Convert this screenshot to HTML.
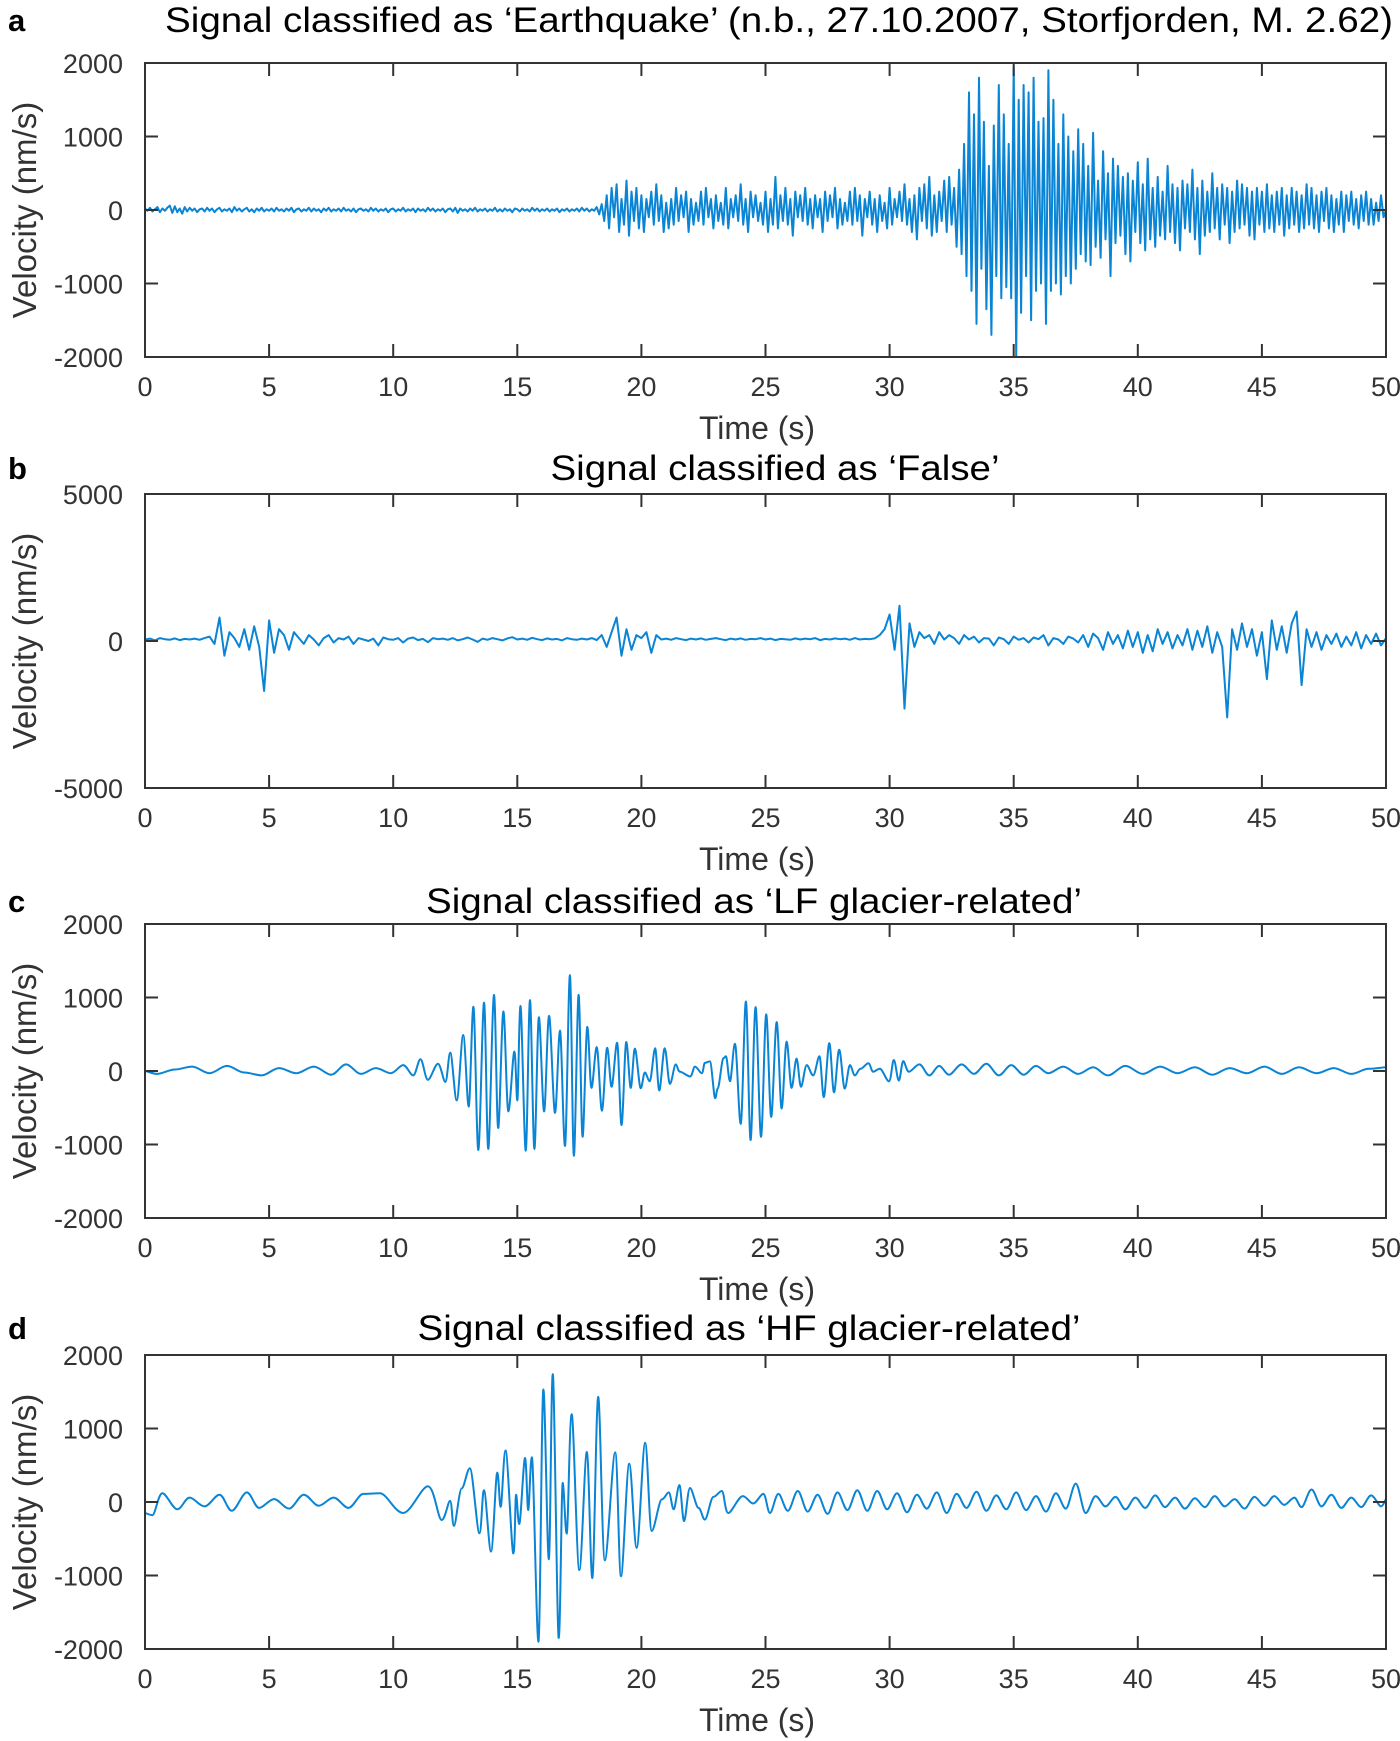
<!DOCTYPE html>
<html><head><meta charset="utf-8">
<style>
html,body{margin:0;padding:0;background:#fff;}
svg{display:block;font-family:"Liberation Sans",Arial,sans-serif;}
</style></head>
<body>
<svg id="fig" width="1400" height="1741" viewBox="0 0 1400 1741" xmlns="http://www.w3.org/2000/svg"></svg>
<script>
// ---------- data ----------
const xTicks = [0,5,10,15,20,25,30,35,40,45,50];
const yTicksA = [-2000,-1000,0,1000,2000];
const yTicksB = [-5000,0,5000];
const yTicksC = [-2000,-1000,0,1000,2000];
const yTicksD = [-2000,-1000,0,1000,2000];
const titles = ["Signal classified as \u2018Earthquake\u2019 (n.b., 27.10.2007, Storfjorden, M. 2.62)","Signal classified as \u2018False\u2019","Signal classified as \u2018LF glacier-related\u2019","Signal classified as \u2018HF glacier-related\u2019"];
const letters = ["a","b","c","d"];

// panel a: uniformly sampled samples over 0..50 s
const aValues = [20,-10,30,-20,10,40,-30,20,-10,30,60,-40,50,-30,20,-50,40,-20,30,-10,20,-30,10,20,-20,30,-10,20,-30,10,30,-20,10,-10,20,-30,40,-10,20,-20,10,30,-20,10,-30,20,-10,30,-20,10,
-10,20,-20,30,-10,10,-20,20,-10,30,-30,10,20,-20,10,-10,30,-20,20,-10,10,-30,20,-10,30,-20,10,-10,20,-20,30,-10,10,-20,20,-30,10,20,-10,10,-20,30,-10,20,-20,10,-10,20,-30,10,
20,-20,10,-10,30,-20,10,-10,20,-30,20,-10,10,-20,30,-10,20,-20,10,-10,20,-30,10,20,-20,30,-40,20,-10,10,-20,20,-10,30,-20,10,-10,20,-20,10,-10,30,-20,10,-20,20,-10,10,-30,20,
10,-20,20,-10,10,-20,30,-10,20,-20,10,-10,20,-20,10,-10,20,-30,10,-10,20,-20,10,-10,20,-20,30,-10,20,-20,10,-10,40,-60,80,
-150,200,-250,300,-100,350,-300,150,-200,400,-350,250,-150,300,-250,200,-300,150,-100,250,-200,350,-150,200,-300,100,-250,150,-200,300,-150,200,-100,250,-300,150,-200,100,-150,250,-200,300,-100,150,-250,200,-150,100,-200,300,-250,150,-100,200,-150,350,-200,150,-300,250,-100,200,-150,100,-200,
250,-300,150,-200,450,-250,200,-150,300,-200,150,-350,250,-100,200,-150,300,-200,150,-250,200,-100,150,-300,250,-150,200,-100,300,-250,150,-200,100,-150,250,-200,300,-150,200,-350,150,-100,250,-200,150,-300,200,-150,100,-250,300,-200,150,-100,250,-150,350,-200,150,-300,200,-400,300,-150,350,-250,450,-350,200,-300,250,-150,400,-300,450,-200,300,-500,550,-600,
900,-900,1600,-1100,1300,-1550,1800,-800,1200,-1350,600,-1700,1150,-900,1700,-1200,1300,-1050,900,-1200,1950,-2000,1500,-1400,1700,-900,1600,-1500,1800,-1100,1200,-1000,1250,-1550,1900,-1100,1500,-1000,900,-1150,1300,-900,1000,-1000,800,
-800,1100,-600,900,-700,600,-750,1050,-500,400,-650,800,-400,500,-900,700,-450,600,-350,450,-600,500,-700,400,-300,650,-450,350,-550,700,-400,300,-500,450,-350,250,-400,600,-300,350,-450,300,-550,400,-250,350,-300,550,-400,300,-600,400,-350,250,-300,500,-250,300,-400,350,-200,300,-450,250,-300,400,-250,350,-200,300,-350,250,-400,300,-200,250,-300,350,-250,200,-300,250,-200,300,-350,200,-250,300,-200,250,-300,200,-250,350,-200,300,-250,200,-300,250,-150,300,-250,200,-300,150,-200,250,-300,200,-150,250,-200,150,-250,200,-150,250,-200,150,-200,100,-150,200,-100,0];

// panel b: uniformly sampled over 0..50 s
const bValues = [50,80,20,100,60,40,90,30,70,50,
80,40,100,150,-100,800,-500,300,100,-200,
400,-300,500,-200,-1700,700,-400,400,200,-300,
300,100,-100,200,50,-150,100,200,-50,100,
50,150,-100,100,50,0,80,-150,120,60,
40,100,-50,80,120,30,70,-40,100,60,
80,40,100,20,60,120,50,-30,80,40,
100,60,20,90,130,50,80,40,110,60,
30,90,50,70,20,100,60,40,80,50,
100,30,200,-200,300,800,-500,400,-300,200,
100,300,-400,200,50,80,40,100,60,30,
80,50,90,40,70,100,60,30,80,50,
90,40,70,60,100,50,80,30,70,60,
40,90,50,80,60,100,30,70,50,90,
60,80,40,100,50,70,60,90,200,400,
900,-300,1200,-2300,600,-200,300,100,200,-100,
300,50,200,100,-100,200,50,150,-50,100,
80,-150,120,60,-100,150,40,100,-50,120,
60,200,-150,100,50,-100,150,80,-50,200,
-200,250,100,-300,300,-100,200,-250,350,-200,
300,-400,200,-350,400,-100,300,-250,200,-150,
400,-300,350,-200,500,-400,300,-200,-2600,400,
-300,600,-200,400,-500,300,-1300,700,-300,500,
-400,600,1000,-1500,400,-200,300,-300,200,-100,
250,-200,150,-150,300,-250,200,-100,250,-150,100];

// panel c: extremes (time s, value nm/s)
const cTimes = [0,0.5,1.2,1.9,2.6,3.3,4.0,4.7,5.4,6.1,6.8,7.5,8.1,8.7,9.3,9.9,10.4,10.8,11.1,11.4,11.8,12.1,12.3,12.56,12.82,13.04,13.23,13.43,13.66,13.83,14.06,14.23,14.44,14.64,14.88,15.0,15.13,15.34,15.51,15.69,15.87,16.08,16.28,16.52,16.72,16.92,17.12,17.28,17.47,17.63,17.82,17.99,18.2,18.41,18.62,18.8,19.02,19.2,19.39,19.57,19.74,19.97,20.14,20.34,20.55,20.72,20.94,21.15,21.38,21.56,21.96,22.16,22.43,22.56,22.76,22.97,23.08,23.3,23.41,23.57,23.77,24.0,24.21,24.4,24.6,24.82,25.03,25.23,25.45,25.65,25.85,26.05,26.25,26.43,26.66,26.92,27.17,27.35,27.57,27.76,27.97,28.19,28.4,28.6,28.83,29.14,29.34,29.61,29.97,30.17,30.37,30.55,30.78,31.2,31.6,32.0,32.4,32.9,33.4,33.9,34.4,34.9,35.4,35.9,36.4,37.0,37.6,38.2,38.8,39.5,40.2,40.9,41.6,42.3,43.0,43.7,44.4,45.1,45.8,46.5,47.2,47.9,48.6,49.3,50];
const cValues = [0,-40,20,60,-30,70,-20,-60,40,-30,60,-50,90,-40,40,-30,80,-60,160,-120,100,-150,250,-400,490,-485,875,-1075,930,-1060,1035,-775,810,-550,265,-400,885,-1085,965,-1060,730,-550,750,-570,550,-1020,1305,-1155,1035,-895,600,-230,325,-540,315,-215,385,-735,395,-230,305,-235,-20,-140,310,-265,310,-175,90,-10,-75,60,-30,110,130,-370,-240,175,200,-140,370,-720,945,-940,870,-895,770,-625,665,-510,400,-230,170,-215,80,-60,200,-355,380,-290,290,-240,80,-60,30,105,-10,30,-140,150,-130,135,-10,90,-60,70,-50,90,-40,100,-60,80,-50,70,-30,60,-40,50,-60,70,-40,60,-30,50,-50,40,-30,60,-40,50,-30,40,-40,30,50];

// panel d: extremes (time s, value nm/s)
const dTimes = [0,0.3,0.7,1.3,1.8,2.4,3.0,3.5,4.1,4.6,5.2,5.8,6.4,7.0,7.6,8.2,8.8,9.47,10.4,11.4,11.95,12.29,12.45,12.76,13.09,13.47,13.66,13.94,14.19,14.33,14.53,14.84,14.95,15.08,15.31,15.44,15.59,15.85,16.05,16.27,16.43,16.67,16.83,16.99,17.19,17.5,17.8,18.02,18.26,18.53,18.94,19.18,19.51,19.81,20.15,20.42,20.82,21.1,21.3,21.53,21.72,21.96,22.3,22.56,22.9,23.24,23.5,24.08,24.5,24.91,25.18,25.52,25.9,26.3,26.7,27.1,27.5,27.9,28.3,28.7,29.1,29.5,29.9,30.3,30.7,31.1,31.5,31.9,32.3,32.7,33.1,33.5,33.9,34.3,34.7,35.1,35.5,35.9,36.3,36.7,37.1,37.5,37.9,38.3,38.7,39.1,39.5,39.9,40.3,40.7,41.1,41.5,41.9,42.3,42.7,43.1,43.5,43.9,44.3,44.7,45.1,45.5,45.9,46.3,46.6,47.0,47.4,47.8,48.2,48.6,49.0,49.4,49.8,50];
const dValues = [-150,-180,120,-100,60,-60,100,-120,130,-80,40,-90,100,-50,60,-80,110,120,-150,215,-245,15,-325,185,460,-425,160,-675,400,-65,700,-700,100,-300,600,-110,610,-1900,1530,-780,1740,-1850,260,-430,1195,-925,680,-1035,1430,-795,675,-1010,520,-625,805,-395,35,130,-100,230,-260,190,-80,-240,70,150,-150,80,-20,110,-150,110,-120,150,-130,100,-160,130,-110,160,-120,150,-100,120,-140,100,-90,130,-150,110,-80,140,-120,90,-100,130,-110,80,-130,120,-90,250,-150,80,-60,70,-100,60,-80,90,-70,60,-90,50,-70,80,-60,40,-90,70,-50,80,-40,60,-70,170,-60,100,-80,60,-70,90,-60,40,-100,20];

// ---------- layout ----------
const NS = "http://www.w3.org/2000/svg";
const svg = document.getElementById('fig');
const L = 145, R = 1386, H = 294;
const tops = [63, 494, 924, 1355];
const titleY = [32, 480, 913, 1340];
const titleX = [779, 775, 754, 749];
const titleW = [1228, 449, 656, 663];
const yRanges = [[-2000,2000],[-5000,5000],[-2000,2000],[-2000,2000]];
const yTickSets = [yTicksA, yTicksB, yTicksC, yTicksD];
const lineColor = "#0a84d4";
const axisColor = "#333";

function xs(t){ return L + (t - 0) / 50 * (R - L); }
function ysFor(p){ const [lo,hi]=yRanges[p]; const top=tops[p]; return v => top + (hi - v) / (hi - lo) * H; }

function mk(tag, attrs, parent){
  const e = document.createElementNS(NS, tag);
  for (const k in attrs) e.setAttribute(k, attrs[k]);
  (parent||svg).appendChild(e);
  return e;
}

const panelNames = ["earthquake","false","lf-glacier","hf-glacier"];

for (let p = 0; p < 4; p++){
  const g = mk('g', {});
  
  
  const top = tops[p], bot = top + H, ys = ysFor(p);

  const lt = mk('text', {x: 8, y: titleY[p] - 1, 'font-size': 31, 'font-weight': 'bold', fill: '#000'}, g);
  lt.textContent = letters[p];
  
  

  const tt = mk('text', {x: titleX[p], y: titleY[p], 'font-size': 35, 'text-anchor': 'middle', fill: '#000', textLength: titleW[p], lengthAdjust: 'spacingAndGlyphs'}, g);
  tt.textContent = titles[p];
  
  

  let d = "";
  if (p === 0 || p === 1){
    const vals = p === 0 ? aValues : bValues;
    const n = vals.length;
    for (let i = 0; i < n; i++){
      const t = i * 50 / (n - 1);
      d += (i ? "L" : "M") + xs(t).toFixed(1) + " " + ys(vals[i]).toFixed(1);
    }
  } else {
    const T = p === 2 ? cTimes : dTimes, V = p === 2 ? cValues : dValues;
    const n = Math.min(T.length, V.length);
    const P = [];
    for (let i = 0; i < n; i++) P.push([xs(T[i]), ys(V[i])]);
    d = "M" + P[0][0].toFixed(1) + " " + P[0][1].toFixed(1);
    for (let i = 0; i < P.length - 1; i++){
      const p0 = P[Math.max(0,i-1)], p1 = P[i], p2 = P[i+1], p3 = P[Math.min(P.length-1,i+2)];
      const c1x = p1[0] + (p2[0]-p0[0])/6, c2x = p2[0] - (p3[0]-p1[0])/6;
      d += "C" + c1x.toFixed(1) + " " + p1[1].toFixed(1) + " " + c2x.toFixed(1) + " " + p2[1].toFixed(1) + " " + p2[0].toFixed(1) + " " + p2[1].toFixed(1);
    }
  }
  const clipId = 'clip' + p;
  const cp = mk('clipPath', {id: clipId}, g);
  mk('rect', {x: L, y: top, width: R - L, height: H}, cp);
  const path = mk('path', {d: d, fill: 'none', stroke: lineColor, 'stroke-width': 2, 'stroke-linejoin': 'round', 'clip-path': 'url(#' + clipId + ')'}, g);
  
  

  const fr = mk('rect', {x: L, y: top, width: R - L, height: H, fill: 'none', stroke: axisColor, 'stroke-width': 2}, g);
  
  

  xTicks.forEach(t => {
    const x = xs(t);
    mk('line', {x1: x, y1: bot, x2: x, y2: bot - 13, stroke: axisColor, 'stroke-width': 2}, g);
    mk('line', {x1: x, y1: top, x2: x, y2: top + 13, stroke: axisColor, 'stroke-width': 2}, g);
    const tl = mk('text', {x: x, y: bot + 39, 'font-size': 27, 'text-anchor': 'middle', fill: axisColor}, g);
    tl.textContent = t;
    
    
  });
  yTickSets[p].forEach(v => {
    const y = ys(v);
    mk('line', {x1: L, y1: y, x2: L + 13, y2: y, stroke: axisColor, 'stroke-width': 2}, g);
    mk('line', {x1: R, y1: y, x2: R - 13, y2: y, stroke: axisColor, 'stroke-width': 2}, g);
    const yl = mk('text', {x: 123, y: y + 10, 'font-size': 27, 'text-anchor': 'end', fill: axisColor}, g);
    yl.textContent = v;
    
    
  });

  const xt = mk('text', {x: 757, y: bot + 82, 'font-size': 32, 'text-anchor': 'middle', fill: axisColor}, g);
  xt.textContent = "Time (s)";
  
  
  const cy = top + H / 2;
  const yt = mk('text', {x: 0, y: 0, 'font-size': 33, 'text-anchor': 'middle', fill: axisColor, transform: 'translate(36,' + cy + ') rotate(-90)'}, g);
  yt.textContent = "Velocity (nm/s)";
  
  
}
</script>
</body></html>
